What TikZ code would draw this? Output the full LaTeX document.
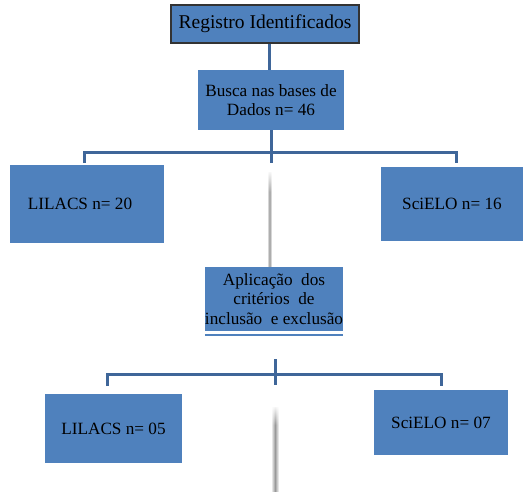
\documentclass[tikz,border=0pt]{standalone}
\usepackage{fontspec}
\setmainfont{Liberation Serif}
\usetikzlibrary{positioning,fadings}
\definecolor{caixa}{HTML}{4F81BD}
\definecolor{linha}{HTML}{3F6699}

\begin{document}
\begin{tikzpicture}[x=1pt,y=-1pt,
  caixa/.style={fill=caixa, inner sep=0pt, align=center, font=\fontsize{17.2}{19.5}\selectfont},
  ramo/.style={draw=linha, line width=3pt},
  sombra/.style={left color=white, right color=white, middle color=black!40}]
\useasboundingbox (0,0) rectangle (525,491);
\node[caixa, draw=black!80, line width=1.5pt, minimum width=188pt, minimum height=38pt, font=\fontsize{19.5}{21}\selectfont] (reg) at (265,24) {Registro Identificados};
\node[caixa, minimum width=146pt, minimum height=60pt] (busca) at (271,100) {Busca nas bases de\\Dados n= 46};
\node[caixa, minimum width=154pt, minimum height=78pt] (lil1) at (87,204) {LILACS n= 20\hspace{14pt}};
\node[caixa, minimum width=142pt, minimum height=74pt] (sci1) at (452,204) {SciELO n= 16};
\node[caixa, minimum width=136pt, minimum height=64pt] (aplic) at (274,299) {Aplicação\ \ dos\\critérios\ \ de\\inclusão\ \ e exclusão};
\node[caixa, minimum width=137pt, minimum height=69pt] (lil2) at (113.5,428.5) {LILACS n= 05};
\node[caixa, minimum width=134pt, minimum height=65pt] (sci2) at (441,422.5) {SciELO n= 07};
\coordinate (j1) at (271,152);
\coordinate (l1) at (84,163);
\coordinate (s1) at (456,163);
\coordinate (t2) at (275,359);
\coordinate (j2) at (275,374);
\coordinate (l2) at (107,386);
\coordinate (s2) at (441,386);
\coordinate (fim) at (275,491);
\draw[ramo] ([xshift=4pt]reg.south) -- ([xshift=-2pt]busca.north);
\draw[ramo] (busca.south) -- (j1) -- ++(0,11);
\draw[ramo] (l1) |- (j1) -| (s1);
\draw[ramo] (t2) -- (j2) -- ++(0,11);
\draw[ramo] (l2) |- (j2) -| (s2);
\draw[draw=caixa, line width=2.5pt] ([yshift=-4pt]aplic.south west) -- ([yshift=-4pt]aplic.south east);
\shade[sombra] (267,172) rectangle ([xshift=-2pt]aplic.north);
\fill[white, path fading=south] (265,170) rectangle (277,192);
\shade[sombra] (271,407) rectangle ([xshift=4pt]fim);
\fill[white, path fading=south] (269,405) rectangle (281,425);
\end{tikzpicture}
\end{document}
